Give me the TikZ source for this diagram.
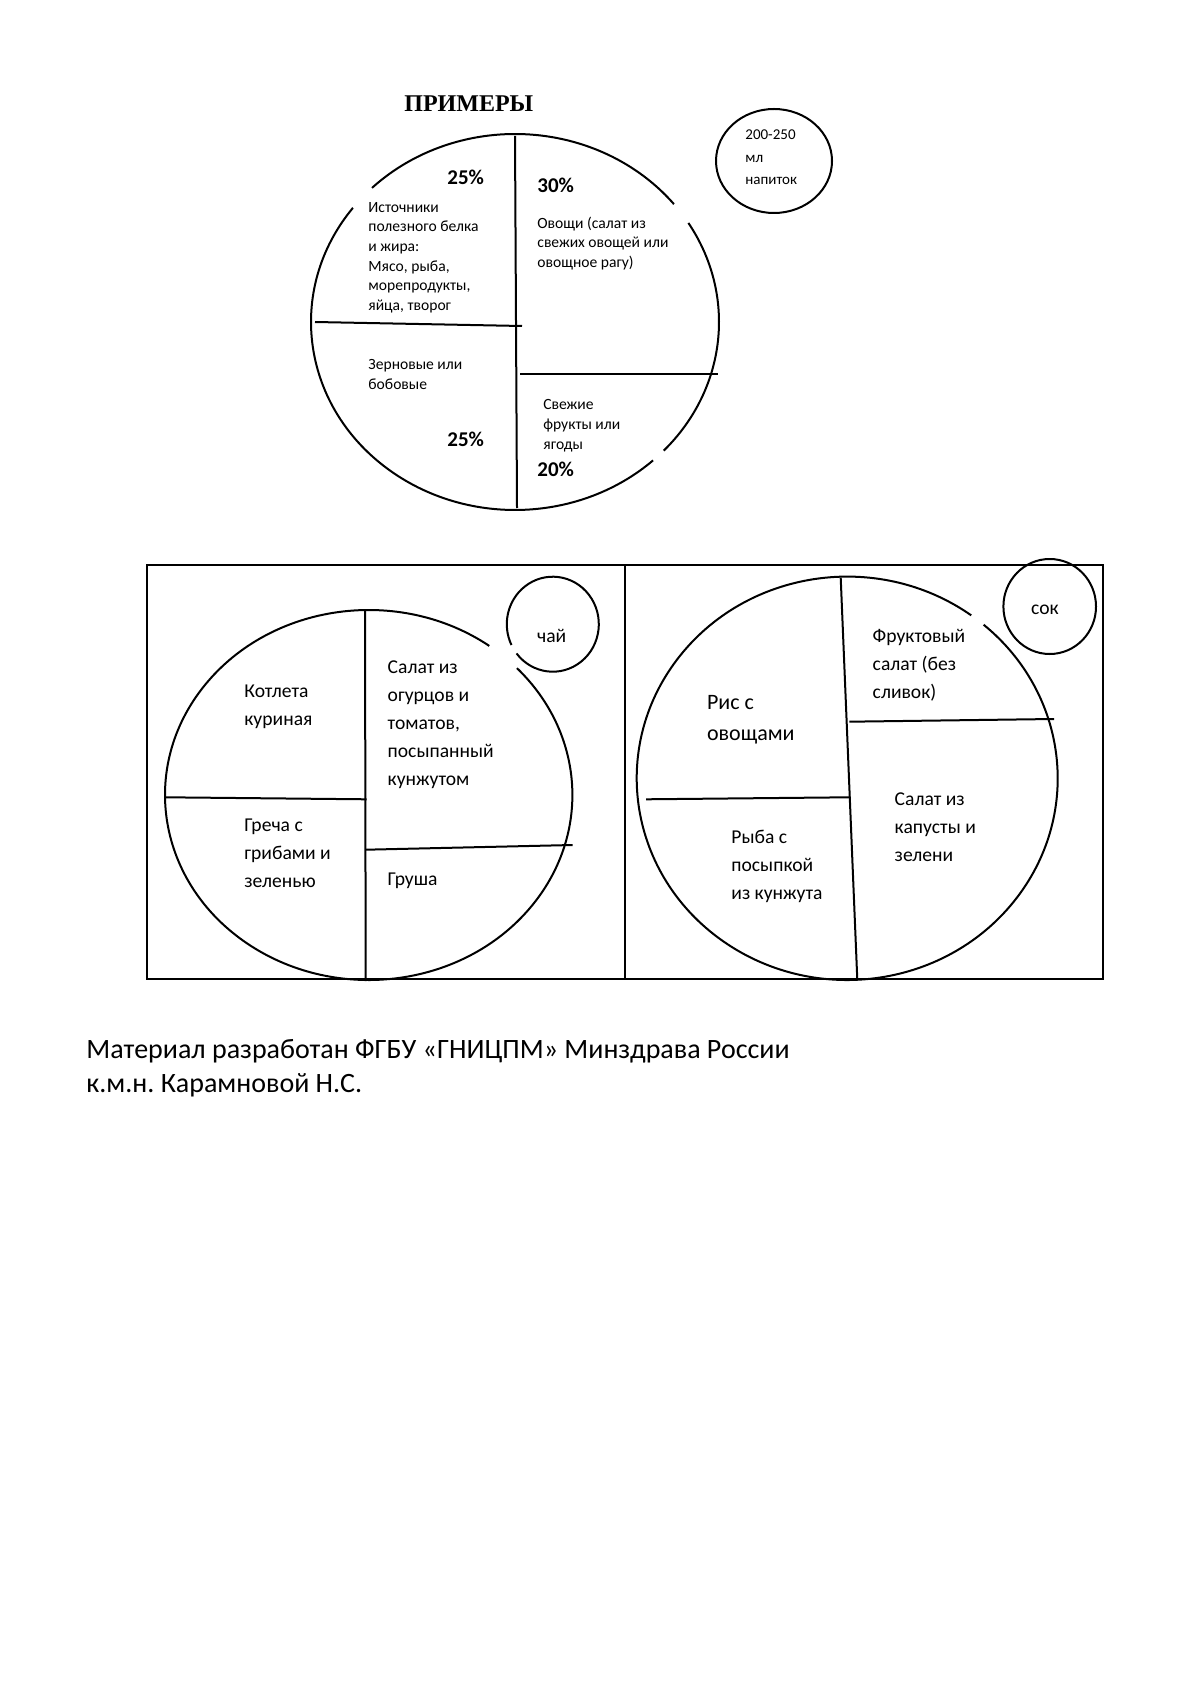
\documentclass[tikz,border=0pt]{standalone}
\usepackage{fontspec}
\setmainfont{Carlito}
\newfontfamily\titlefont{Liberation Serif}
\newcommand{\ml}[1]{\begin{tabular}[t]{@{}l@{}}#1\end{tabular}}
\frenchspacing
\tikzset{
  ln/.style={line width=1pt},
  txt/.style={anchor=base west, inner sep=0pt},
  pct/.style={txt, font=\bfseries\fontsize{10.5}{12}\selectfont},
  small/.style={txt, font=\fontsize{7.8}{9.8}\selectfont},
  drink/.style={txt, font=\fontsize{7.5}{11.2}\selectfont},
  mid/.style={txt, font=\fontsize{9.8}{14}\selectfont},
  big/.style={txt, font=\fontsize{11}{15.5}\selectfont},
}
\begin{document}
\begin{tikzpicture}[x=0.5pt,y=-0.5pt]
\useasboundingbox (0,0) rectangle (1191,1684);

% ---------- title ----------
\node[txt, font=\titlefont\bfseries\fontsize{12}{15}\selectfont] (title) at (404,111.7) {ПРИМЕРЫ};

% ---------- top plate ----------
\draw[ln] (515,322) ++(38.8:102pt and 94pt) arc[start angle=38.8, end angle=134.5, x radius=102pt, y radius=94pt];
\draw[ln] (515,322) ++(142.6:102pt and 94pt) arc[start angle=142.6, end angle=312.6, x radius=102pt, y radius=94pt];
\draw[ln] (515,322) ++(316.8:102pt and 94pt) arc[start angle=316.8, end angle=391.8, x radius=102pt, y radius=94pt];
\coordinate (t1) at (515,136); \coordinate (t2) at (517,508);
\coordinate (t3) at (315,322); \coordinate (t4) at (522,326);
\coordinate (t5) at (520,374); \coordinate (t6) at (718,374);
\draw[ln] (t1) -- (t2);
\draw[ln] (t3) -- (t4);
\draw[ln] (t5) -- (t6);

\node[pct] (p1) at (447,185) {25\%};
\node[small] (src) at (368,212.3) {\ml{Источники\\полезного белка\\и жира:\\Мясо, рыба,\\морепродукты,\\яйца, творог}};
\node[pct] (p2) at (537,192.7) {30\%};
\node[small] (veg) at (537,228.3) {\ml{Овощи (салат из\\свежих овощей или\\овощное рагу)}};
\node[small] (grain) at (368,370) {\ml{Зерновые или\\бобовые}};
\node[pct] (p3) at (447,446.7) {25\%};
\node[small] (fruit) at (543,410) {\ml{Свежие\\фрукты или\\ягоды}};
\node[pct] (p4) at (537,476.7) {20\%};

% drink circle
\draw[ln] (774,161) ellipse[x radius=29pt, y radius=26pt];
\node[drink] (drinktxt) at (745,140) {\ml{200-250\\мл\\напиток}};

% ---------- lower frame ----------
\coordinate (b1) at (147,565); \coordinate (b2) at (1103,979);
\coordinate (b3) at (625,565); \coordinate (b4) at (625,979);
\draw[ln] (b1) rectangle (b2);
\draw[ln] (b3) -- (b4);

% ---------- lower left plate ----------
\draw[ln] (368.7,795) ++(53.7:101.85pt and 92.5pt) arc[start angle=53.7, end angle=403.3, x radius=101.85pt, y radius=92.5pt];
\draw[ln] (552.8,624.2) ++(218:23pt and 23.75pt) arc[start angle=218, end angle=566, x radius=23pt, y radius=23.75pt];
\coordinate (l1) at (365,611); \coordinate (l2) at (365.7,981);
\coordinate (l3) at (166,797.3); \coordinate (l4) at (366.7,799.3);
\coordinate (l5) at (366,849.7); \coordinate (l6) at (572.7,845);
\draw[ln] (l1) -- (l2);
\draw[ln] (l3) -- (l4);
\draw[ln] (l5) -- (l6);

\node[mid] (kotl) at (244,697.7) {\ml{Котлета\\куриная}};
\node[mid] (salad1) at (387.3,673.3) {\ml{Салат из\\огурцов и\\томатов,\\посыпанный\\кунжутом}};
\node[mid] (grecha) at (244,831.7) {\ml{Греча с\\грибами и\\зеленью}};
\node[mid] (grusha) at (387.3,885) {Груша};
\node[mid] (tea) at (536.7,642.3) {чай};

% ---------- lower right plate ----------
\draw[ln] (847.2,778.3) ++(53.9:105.25pt and 100.85pt) arc[start angle=53.9, end angle=409.6, x radius=105.25pt, y radius=100.85pt];
\draw[ln] (1049.7,606.5) ellipse[x radius=23.15pt, y radius=23.75pt];
\coordinate (r1) at (840.7,577.7); \coordinate (r2) at (857.3,980);
\coordinate (r3) at (646,799.3); \coordinate (r4) at (849.3,797.3);
\coordinate (r5) at (849.3,721.7); \coordinate (r6) at (1054,719);
\draw[ln] (r1) -- (r2);
\draw[ln] (r3) -- (r4);
\draw[ln] (r5) -- (r6);

\node[mid] (juice) at (1030.7,614.3) {сок};
\node[mid] (frsalad) at (872.3,642.3) {\ml{Фруктовый\\салат (без\\сливок)}};
\node[big] (rice) at (706.7,709) {\ml{Рис с\\овощами}};
\node[mid] (cabbage) at (894.3,805) {\ml{Салат из\\капусты и\\зелени}};
\node[mid] (fish) at (731,843.3) {\ml{Рыба с\\посыпкой\\из кунжута}};

% ---------- footer ----------
\node[txt, font=\fontsize{14}{17}\selectfont] (footer) at (86,1058) {\ml{Материал разработан ФГБУ «ГНИЦПМ» Минздрава России\\к.м.н. Карамновой Н.С.}};
\end{tikzpicture}
\end{document}
